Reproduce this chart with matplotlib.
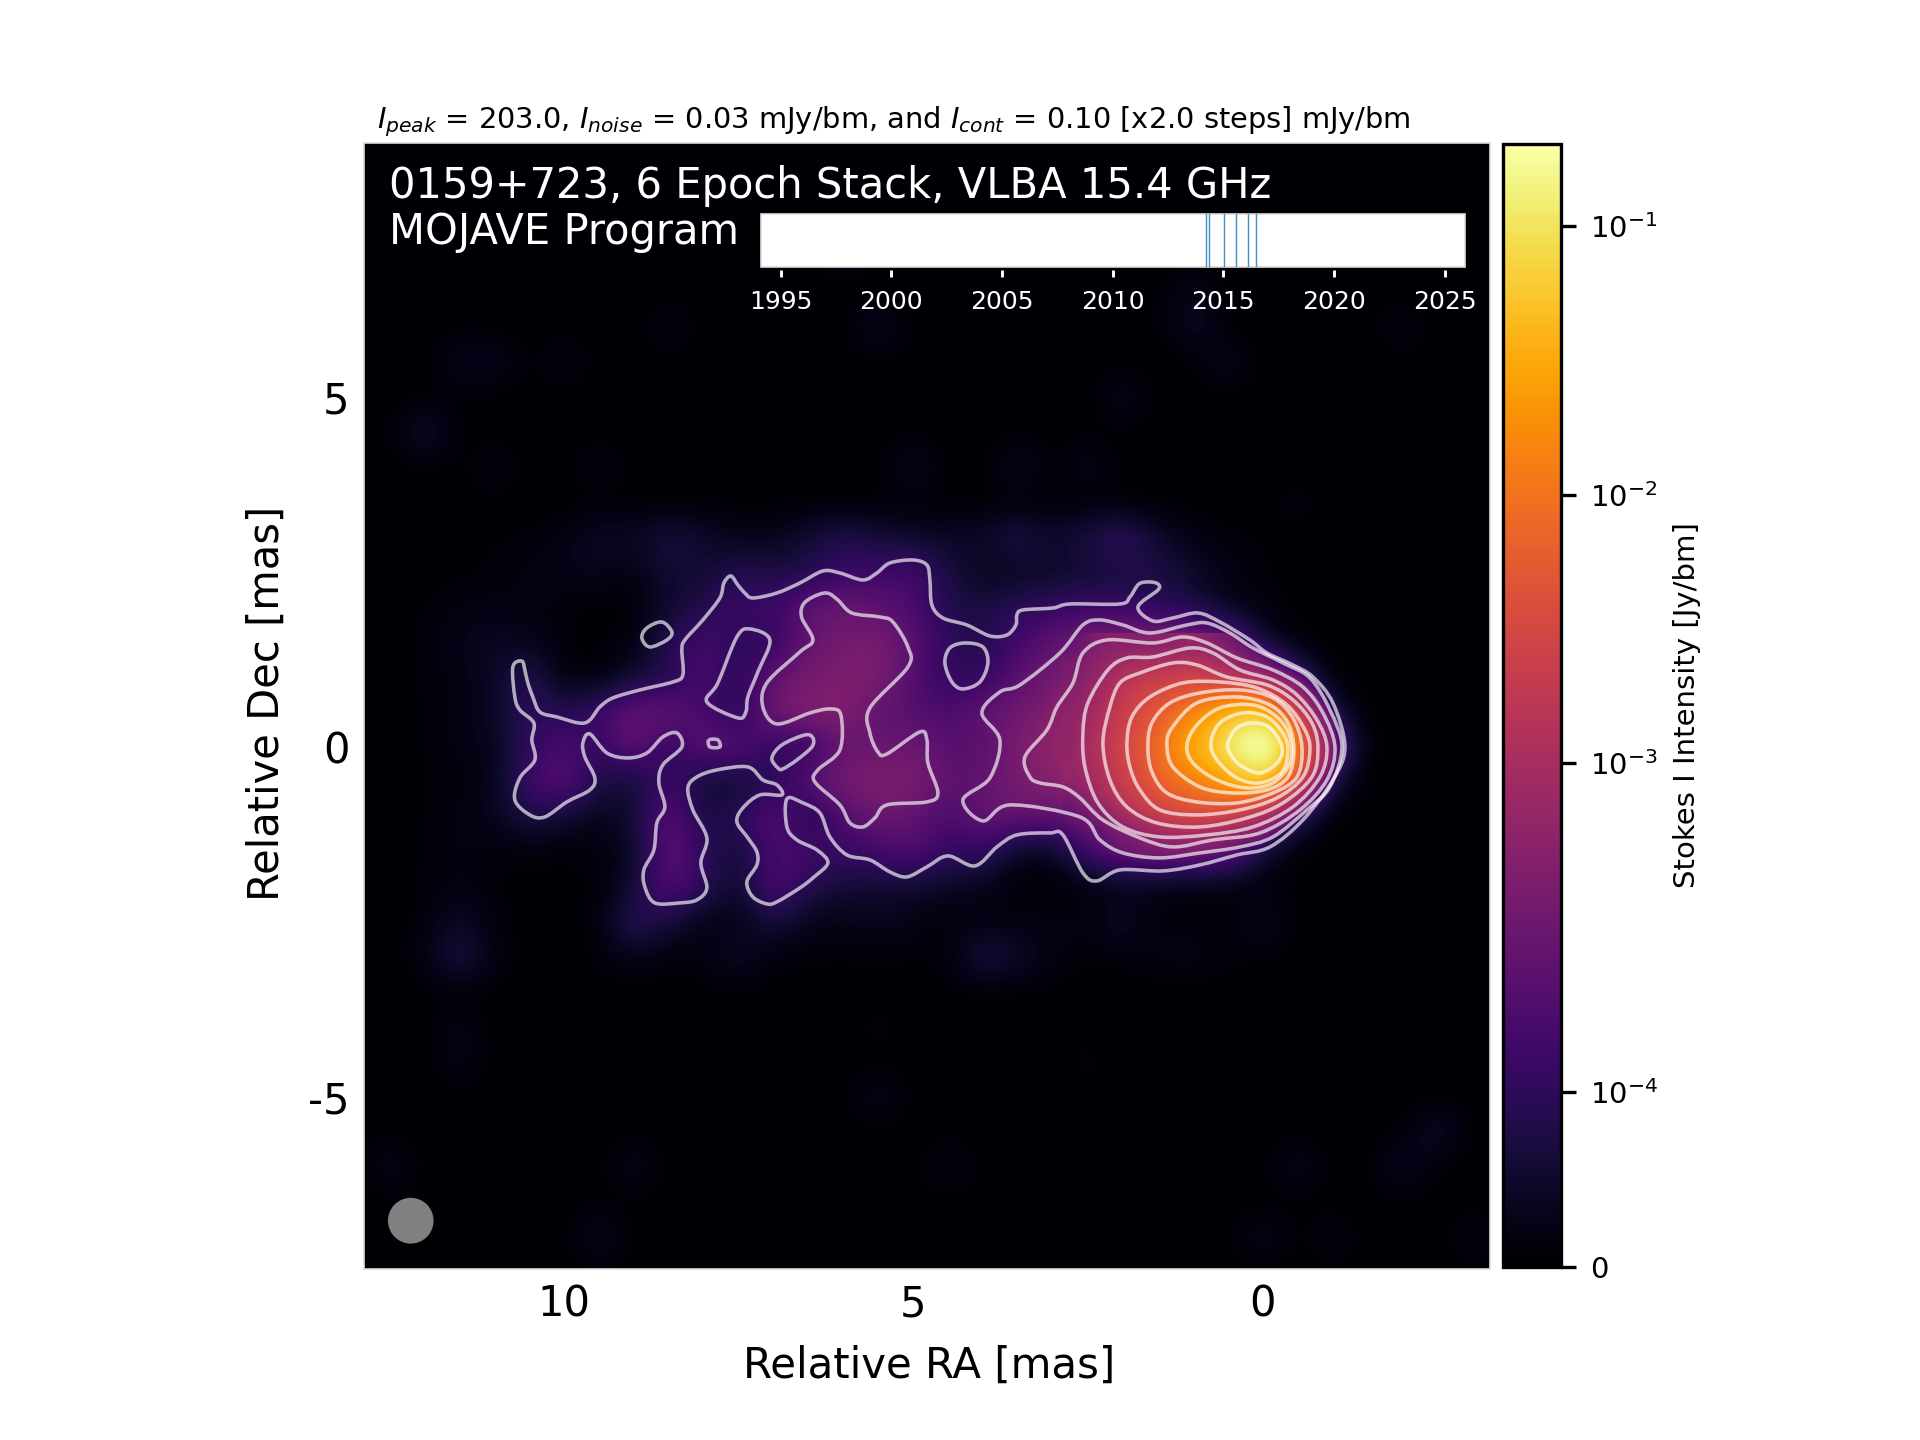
import numpy as np
import matplotlib
matplotlib.use('Agg')
import matplotlib.pyplot as plt
from matplotlib.colors import SymLogNorm
from matplotlib.cm import ScalarMappable
from matplotlib.patches import Circle, PathPatch
from matplotlib.path import Path

# map scale, used to turn vertices measured on the map into mas
X0, Y0, PX_PER_MAS_X, PX_PER_MAS_Y = 1262.5, 747.0, 69.8, 70.0

# faint patches off the jet: RA, Dec (mas), intensity (mJy/bm)
blob_ra = [12.25, 11.5, 10.8, 11.0, 9.9, 8.5, 5.7, 1.2, 0.5, -2.0, 2.2, 4.85, 3.6, 2.4, 9.4, -0.7, 5.8, 1.1,
           11.6, 5.7, 4.6, 8.8, 9.7, -2.6, -1.8, -0.4, -1.0, 0.0, 12.6, -3.0, 2.6, 5.7, 11.6, 8.0]
blob_dec = [4.6, 5.4, 5.4, 4.2, 5.4, 6.2, 5.9, 5.9, 5.6, 5.8, 4.8, 3.85, 4.0, 4.1, 3.8, 3.7, 6.8, 6.7,
            -4.6, -5.2, -5.9, -6.1, -6.8, -5.6, -5.9, -5.9, -6.8, -7.2, -6.0, -6.9, -4.3, -4.1, -4.0, 8.0]
blob_mjy = [.07, .04, .04, .03, .03, .03, .05, .05, .04, .03, .04, .05, .05, .04, .03, .02, .03, .04,
            .03, .04, .035, .04, .05, .06, .05, .04, .03, .04, .04, .03, .02, .02, .03, .02]
floor_mjy = .003

# jet region in mJy/bm on a 0.5 mas grid (RA 12..-1.5, Dec 3..-3)
jet = [
    [.005, .01, .01, .01, .02, .05, .04, .08, .05, .03, .03, .06, .09, .06, .05, .04, .05, .09, .05, .08, .12, .05, .02, .01, .01, .005, .005, .005],
    [.005, .005, .01, .02, .03, .03, .02, .06, .05, .09, .07, .08, .11, .12, .14, .07, .03, .03, .04, .05, .06, .08, .05, .02, .01, .005, .003, .003],
    [.01, .02, .02, .02, .01, .003, .005, .05, .08, .13, .12, .19, .24, .17, .14, .08, .07, .10, .11, .12, .11, .09, .07, .03, .015, .005, .003, .003],
    [.01, .03, .04, .03, .01, .003, .02, .09, .14, .09, .10, .20, .30, .33, .18, .10, .08, .13, .18, .30, .40, .38, .42, .22, .05, .005, .003, .003],
    [.01, .02, .04, .10, .01, .01, .05, .08, .15, .08, .20, .30, .36, .40, .15, .10, .10, .17, .25, .65, 1.4, 2.0, 2.6, 1.6, .85, .12, .003, .003],
    [.01, .02, .04, .11, .08, .13, .24, .20, .13, .08, .30, .45, .45, .17, .16, .14, .20, .25, .42, 1.0, 2.0, 4.5, 14, 30, 45, 2.5, .06, .003],
    [.01, .02, .03, .10, .15, .10, .22, .09, .20, .17, .10, .09, .22, .20, .25, .16, .16, .35, .60, .85, 3.0, 9, 30, 100, 203, 10, .25, .003],
    [.01, .01, .03, .13, .20, .07, .05, .12, .05, .04, .09, .18, .33, .40, .40, .17, .18, .33, .45, .85, 2.2, 5, 13, 35, 50, 5, .05, .003],
    [.01, .02, .03, .08, .05, .03, .05, .22, .06, .10, .17, .06, .15, .25, .18, .14, .22, .22, .17, .28, 1.0, 2.0, 3.0, 2.2, .50, .08, .003, .003],
    [.01, .02, .01, .01, .01, .01, .04, .20, .10, .05, .14, .14, .11, .13, .16, .10, .11, .03, .03, .13, .20, .24, .22, .20, .05, .005, .003, .003],
    [.01, .02, .01, .005, .005, .01, .05, .17, .10, .04, .16, .08, .06, .05, .05, .04, .03, .003, .003, .01, .02, .02, .01, .01, .01, .005, .003, .003],
    [.01, .05, .01, .005, .005, .01, .11, .06, .02, .02, .07, .03, .02, .04, .02, .01, .01, .02, .02, .02, .05, .01, .01, .01, .04, .005, .003, .003],
    [.02, .09, .02, .005, .005, .01, .03, .01, .02, .05, .01, .01, .01, .01, .01, .01, .09, .05, .02, .01, .01, .02, .03, .01, .01, .003, .003, .003],
]

# core in mJy/bm on a 0.25 mas grid (RA 2.75..-1.25, Dec 1.5..-1.5)
core = [
    [.16, .30, .42, .45, .43, .42, .48, .60, .40, .30, .18, .08, .03, .01, .005, .003, .003],
    [.30, .43, .60, .78, .85, .90, 1.05, 1.2, 1.0, .70, .38, .27, .11, .03, .01, .005, .003],
    [.33, .50, .82, 1.3, 1.8, 2.1, 2.5, 2.8, 2.2, 1.6, 1.1, .80, .47, .28, .09, .01, .003],
    [.43, .65, 1.1, 1.8, 2.7, 3.5, 4.7, 6.2, 7.5, 9.5, 10.5, 7.0, 1.9, .80, .27, .05, .003],
    [.55, .70, 1.4, 2.2, 3.5, 5.5, 9.0, 14, 24, 35, 48, 40, 10, 2.4, .60, .18, .01],
    [.60, .90, 1.55, 2.7, 4.2, 6.5, 15, 24, 40, 72, 130, 150, 70, 6.4, 1.6, .20, .01],
    [.55, 1.0, 1.8, 2.8, 4.8, 9.0, 17, 32, 50, 102, 180, 203, 115, 9.0, 2.1, .55, .03],
    [.65, .95, 1.5, 2.7, 4.5, 8.0, 13.5, 23, 37, 62, 102, 130, 70, 7.5, 1.6, .38, .01],
    [.60, .75, 1.3, 2.2, 3.6, 6.0, 9.0, 12.8, 18, 28, 48, 50, 12, 3.2, .80, .12, .005],
    [.25, .55, 1.0, 1.65, 2.5, 3.8, 5.0, 6.7, 8.0, 8.0, 6.8, 4.5, 2.2, .95, .20, .02, .005],
    [.17, .25, .42, .95, 1.4, 1.9, 2.5, 3.1, 2.7, 2.3, 1.7, 1.1, .65, .22, .05, .01, .005],
    [.09, .13, .20, .32, .47, .85, .95, .95, .80, .65, .50, .41, .12, .04, .01, .005, .003],
    [.07, .13, .18, .20, .24, .26, .30, .28, .24, .20, .13, .09, .05, .02, .01, .005, .003],
]

# contour vertices measured on the map, lowest level first
cont_outer = [
    (522, 661), (525, 670), (528, 683), (533, 697), (540, 712), (557, 717), (585, 723), (600, 707),
    (613, 698), (640, 690), (673, 682), (683, 675), (682, 650), (685, 640), (703, 620), (720, 598),
    (724, 583), (731, 576), (738, 585), (745, 593), (753, 598), (777, 593), (800, 583), (823, 571),
    (840, 573), (863, 580), (877, 573), (890, 563), (913, 560), (927, 565), (930, 580), (932, 605),
    (943, 618), (967, 625), (990, 636), (1007, 635), (1016, 625), (1017, 615), (1023, 610), (1053, 608),
    (1070, 604), (1120, 604), (1130, 597), (1139, 584), (1150, 582), (1158, 584), (1158, 590), (1138, 607),
    (1153, 621), (1173, 618), (1198, 613), (1220, 622), (1250, 640), (1267, 653), (1293, 665), (1313, 677),
    (1333, 703), (1345, 747), (1333, 780), (1303, 820), (1270, 847), (1237, 855), (1200, 865), (1163, 871),
    (1120, 870), (1097, 881), (1083, 873), (1063, 835), (1050, 833), (1017, 835), (997, 847), (975, 866),
    (948, 856), (927, 867), (907, 877), (890, 872), (870, 860), (847, 855), (830, 837), (820, 813),
    (803, 803), (787, 799), (787, 827), (797, 840), (817, 850), (828, 863), (813, 878), (800, 888),
    (777, 902), (767, 904), (753, 897), (747, 882), (757, 865), (757, 852), (748, 838), (737, 822),
    (743, 808), (760, 795), (782, 795), (777, 785), (763, 780), (748, 767), (717, 770), (697, 777),
    (688, 788), (693, 810), (707, 838), (701, 863), (707, 888), (697, 900), (680, 903), (655, 903),
    (645, 887), (644, 870), (654, 850), (657, 823), (665, 807), (659, 783), (663, 765), (682, 747),
    (677, 733), (663, 737), (647, 753), (628, 758), (607, 753), (590, 734), (583, 743), (585, 757),
    (595, 778), (590, 790), (567, 802), (545, 817), (530, 815), (515, 800), (520, 778), (535, 760),
    (532, 740), (534, 723), (520, 710), (515, 697), (513, 667),
]
cont_hole_box = [(750, 629), (770, 640), (758, 672), (748, 697), (746, 712), (738, 718), (707, 702), (718, 683), (737, 637)]
cont_island = [(662, 622), (672, 632), (667, 640), (650, 647), (642, 638), (647, 628)]
cont_hole_oval = [(805, 735), (813, 738), (812, 747), (797, 760), (783, 769), (778, 768), (772, 758), (782, 745)]
cont_hole_round = [(965, 643), (983, 647), (988, 663), (980, 682), (963, 689), (952, 682), (945, 663), (950, 648)]
cont_small = [(709, 740), (718, 740), (720, 747), (710, 747)]
cont_mid = [
    (827, 593), (838, 600), (852, 613), (880, 617), (893, 622), (908, 647), (908, 667), (870, 708),
    (870, 733), (878, 752), (887, 754), (920, 732), (927, 740), (928, 763), (938, 793), (927, 802),
    (887, 805), (875, 818), (863, 827), (850, 823), (840, 805), (815, 782), (818, 770), (840, 750),
    (841, 715), (830, 709), (810, 713), (777, 724), (763, 707), (767, 683), (800, 652), (813, 640),
    (802, 618), (803, 605), (813, 597),
]
cont_02 = [
    (1060, 653), (1083, 625), (1100, 620), (1123, 625), (1150, 633), (1187, 625), (1207, 623), (1230, 633),
    (1253, 648), (1283, 663), (1310, 678), (1330, 710), (1342, 747), (1330, 787), (1307, 810), (1273, 837),
    (1240, 847), (1200, 853), (1160, 858), (1123, 853), (1100, 840), (1080, 817), (1010, 805), (983, 821),
    (963, 800), (990, 778), (1000, 740), (982, 713), (1000, 692), (1020, 685),
]
cont_04 = [
    (1057, 707), (1073, 683), (1083, 653), (1107, 640), (1153, 643), (1183, 637), (1207, 643), (1237, 658),
    (1273, 670), (1303, 687), (1323, 713), (1335, 747), (1327, 780), (1300, 810), (1260, 833), (1213, 840),
    (1173, 847), (1140, 838), (1103, 820), (1080, 798), (1063, 787), (1040, 783), (1030, 777), (1025, 757),
    (1047, 730),
]
cont_08 = [
    (1083, 733), (1088, 703), (1108, 670), (1127, 658), (1153, 657), (1190, 648), (1213, 653), (1240, 670),
    (1273, 680), (1297, 695), (1317, 720), (1327, 747), (1320, 777), (1293, 807), (1253, 827), (1207, 835),
    (1160, 837), (1123, 827), (1098, 803), (1085, 767),
]
cont_16 = [
    (1103, 743), (1110, 707), (1120, 683), (1140, 673), (1173, 663), (1197, 665), (1227, 677), (1267, 685),
    (1293, 700), (1312, 723), (1318, 748), (1312, 777), (1283, 803), (1247, 818), (1200, 827), (1157, 823),
    (1127, 807), (1110, 780),
]
cont_32 = [
    (1127, 743), (1132, 717), (1150, 697), (1183, 683), (1220, 682), (1257, 688), (1287, 705), (1305, 730),
    (1310, 750), (1303, 777), (1277, 798), (1240, 810), (1197, 815), (1160, 810), (1140, 790), (1130, 767),
]
cont_64 = [
    (1148, 747), (1152, 723), (1170, 703), (1200, 693), (1240, 690), (1273, 698), (1293, 718), (1302, 747),
    (1297, 777), (1273, 793), (1237, 803), (1197, 802), (1167, 793), (1152, 772),
]
cont_128 = [
    (1167, 745), (1172, 728), (1197, 703), (1237, 697), (1270, 705), (1288, 723), (1294, 750), (1288, 777),
    (1267, 790), (1233, 793), (1200, 787), (1173, 767),
]
cont_256 = [
    (1187, 745), (1197, 725), (1220, 708), (1253, 705), (1277, 717), (1290, 737), (1290, 763), (1273, 783),
    (1247, 788), (1217, 780), (1193, 763),
]
cont_512 = [
    (1211, 743), (1220, 723), (1243, 713), (1267, 717), (1283, 733), (1288, 750), (1282, 772), (1260, 783),
    (1237, 778), (1217, 760),
]
cont_1024 = [
    (1228, 743), (1237, 728), (1253, 723), (1270, 728), (1282, 747), (1278, 762), (1260, 773), (1240, 765),
    (1230, 753),
]
all_contours = [cont_outer, cont_hole_box, cont_island, cont_hole_oval, cont_hole_round, cont_small, cont_mid,
                cont_02, cont_04, cont_08, cont_16, cont_32, cont_64, cont_128, cont_256, cont_512, cont_1024]

# observing epochs, decimal years
epochs = [2014.22, 2014.35, 2015.05, 2015.57, 2016.10, 2016.46]
year_ticks = [1995, 2000, 2005, 2010, 2015, 2020, 2025]

cbar_ticks = [0, 1e-4, 1e-3, 1e-2, 1e-1]
cbar_labels = ['0', '$10^{-4}$', '$10^{-3}$', '$10^{-2}$', '$10^{-1}$']
peak = 0.203


def smooth_closed(verts):
    # closed spline through the measured vertices
    p = np.array(verts, dtype=float)
    p[:, 0] = (X0 - p[:, 0]) / PX_PER_MAS_X
    p[:, 1] = (Y0 - p[:, 1]) / PX_PER_MAS_Y
    n = len(p)
    out = [p[0]]
    codes = [Path.MOVETO]
    for i in range(n):
        p0, p1, p2, p3 = p[i - 1], p[i], p[(i + 1) % n], p[(i + 2) % n]
        out += [p1 + (p2 - p0) / 6, p2 - (p3 - p1) / 6, p2]
        codes += [Path.CURVE4] * 3
    return Path(out, codes)


def main():
    norm = SymLogNorm(linthresh=1.7e-4, linscale=1.0, vmin=0, vmax=peak, base=10)

    # 0.5 mas map: RA 13..-4.5, Dec 9..-8.5
    img = np.full((36, 36), floor_mjy)
    for ra, dec, val in zip(blob_ra, blob_dec, blob_mjy):
        img[int(round((9 - dec) / 0.5)), int(round((13 - ra) / 0.5))] = val
    img[12:25, 2:30] = np.array(jet)

    fig = plt.figure(figsize=(6.4, 4.8), dpi=300)
    ax = fig.add_axes([364 / 1920, 1 - 1269 / 1440, 1126 / 1920, 1126 / 1440])
    ax.imshow(norm(img / 1000.0), cmap='inferno', vmin=0, vmax=1, extent=(13.25, -4.75, -8.75, 9.25),
              origin='upper', interpolation='bicubic', interpolation_stage='data', aspect='auto')
    # finer core, shown only inside the 0.2 mJy contour
    im = ax.imshow(norm(np.array(core) / 1000.0), cmap='inferno', vmin=0, vmax=1,
                   extent=(2.875, -1.375, -1.625, 1.625), origin='upper',
                   interpolation='bicubic', interpolation_stage='data', aspect='auto')
    im.set_clip_path(PathPatch(smooth_closed(cont_02), transform=ax.transData))
    for verts in all_contours:
        ax.add_patch(PathPatch(smooth_closed(verts), fc='none', ec='white', lw=0.85, alpha=0.66))
    ax.set_xlim(12.87, -3.26)
    ax.set_ylim(-7.46, 8.63)
    ax.set_xticks([10, 5, 0])
    ax.set_yticks([5, 0, -5])
    ax.set_yticklabels(['5', '0', '-5'])
    ax.tick_params(length=0, labelsize=10)
    ax.set_xlabel('Relative RA [mas]', fontsize=10.05, labelpad=4.6, x=0.502)
    ax.set_ylabel('Relative Dec [mas]', fontsize=10, labelpad=4.9, y=0.5027)
    for s in ax.spines.values():
        s.set_color('#dddddd')
        s.set_linewidth(0.4)
    ax.add_patch(Circle((12.2, -6.77), 0.327, fc='#808080', ec='none'))

    ax.set_title(r'$I_{peak}$ = 203.0, $I_{noise}$ = 0.03 mJy/bm, and $I_{cont}$ = 0.10 [x2.0 steps] mJy/bm',
                 fontsize=6.95, loc='left', pad=3.6, x=0.0115)
    ax.text(0.022, 0.9617, '0159+723, 6 Epoch Stack, VLBA 15.4 GHz', transform=ax.transAxes,
            color='white', fontsize=10, va='center')
    ax.text(0.022, 0.9208, 'MOJAVE Program', transform=ax.transAxes, color='white', fontsize=10, va='center')

    # epoch strip
    axt = fig.add_axes([761 / 1920, 1 - 267 / 1440, 704 / 1920, 53 / 1440])
    for yr in epochs:
        axt.axvline(yr, color='C0', lw=0.35, alpha=0.8)
    axt.set_xlim(1994.11, 2025.92)
    axt.set_yticks([])
    axt.set_xticks(year_ticks)
    axt.tick_params(axis='x', colors='white', labelsize=6, length=1.7, width=0.7, pad=3.1)
    for s in axt.spines.values():
        s.set_visible(False)
    axt.spines['bottom'].set_position(('outward', 0.8))
    axt.patch.set_edgecolor('#dddddd')
    axt.patch.set_linewidth(0.4)

    cax = fig.add_axes([1503 / 1920, 1 - 1267 / 1440, 58 / 1920, 1123 / 1440])
    cb = fig.colorbar(ScalarMappable(norm=norm, cmap='inferno'), cax=cax)
    cb.set_ticks(cbar_ticks, labels=cbar_labels)
    cb.minorticks_off()
    cb.ax.tick_params(labelsize=7)
    cb.set_label('Stokes I Intensity [Jy/bm]', fontsize=7, labelpad=3.4)

    fig.savefig('out.png')


if __name__ == '__main__':
    main()
